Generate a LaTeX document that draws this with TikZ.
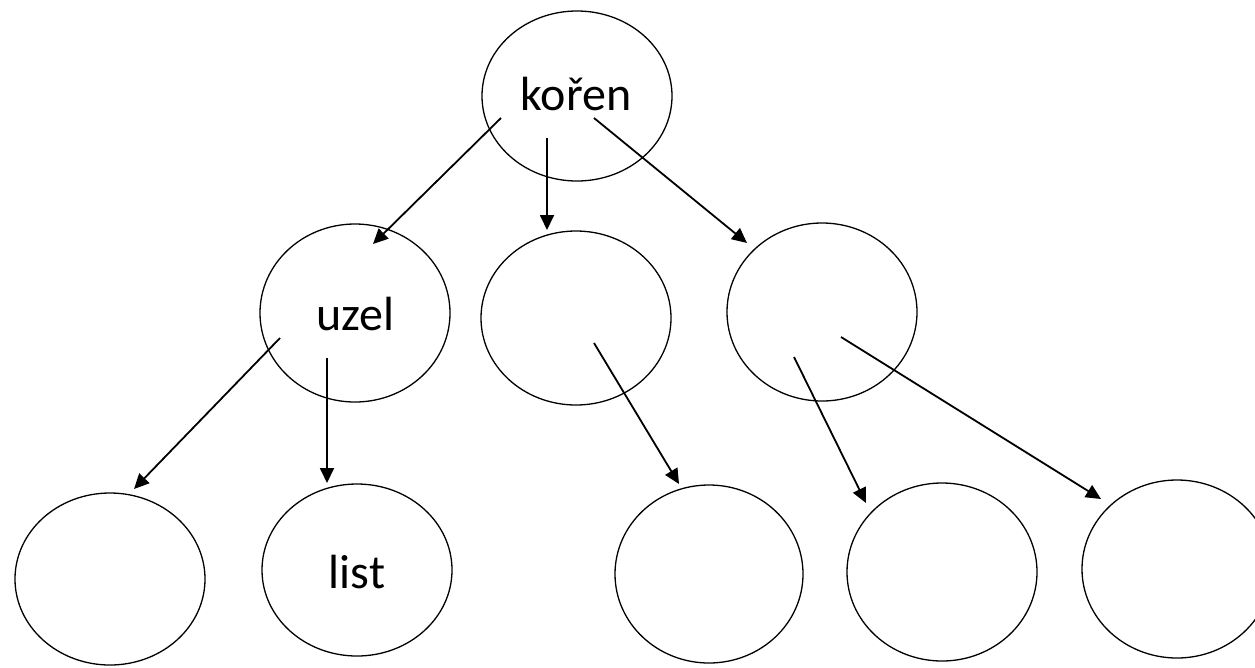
\documentclass[tikz,border=0pt]{standalone}
\usepackage{fontspec}
\setmainfont{Carlito}
\usetikzlibrary{arrows.meta,shapes.geometric}
\tikzset{
  treenode/.style={draw=black, line width=1.3pt, ellipse, inner sep=0pt, minimum width=190pt},
  nodetext/.style={anchor=base, inner sep=0pt, font=\fontsize{48pt}{56pt}\selectfont},
  edge/.style={line width=1.8pt, -{Triangle[length=15pt,width=14pt]}}
}
\begin{document}
\begin{tikzpicture}[x=1pt, y=-1pt]
\useasboundingbox (0,0) rectangle (1255,667);
% top level
\node[treenode, minimum height=170pt] (root) at (577,96) {};
% second level
\node[treenode, minimum height=178pt] (uzel) at (355,313) {};
\node[treenode, minimum height=174pt] (mid)  at (576,318) {};
\node[treenode, minimum height=178pt] (right) at (822,312) {};
% leaves
\node[treenode, minimum height=172pt] (l1) at (110,579) {};
\node[treenode, minimum height=172pt] (l2) at (357,570) {};
\node[treenode, minimum height=178pt, minimum width=188pt] (l3) at (709,574) {};
\node[treenode, minimum height=178pt] (l4) at (942,572) {};
\node[treenode, minimum height=178pt] (l5) at (1177,569) {};
% labels
\node[nodetext] (troot) at (576,110) {kořen};
\node[nodetext] (tuzel) at (355,330) {uzel};
\node[nodetext] (tlist) at (357,588) {list};
% arrow end points
\coordinate (s1) at (501,118); \coordinate (e1) at (373,244);
\coordinate (s2) at (547,138); \coordinate (e2) at (547,230);
\coordinate (s3) at (594,118); \coordinate (e3) at (747,243);
\coordinate (s4) at (280,338); \coordinate (e4) at (134,489);
\coordinate (s5) at (327,358); \coordinate (e5) at (327,483);
\coordinate (s6) at (594,343); \coordinate (e6) at (679,484);
\coordinate (s7) at (794,357); \coordinate (e7) at (866,503);
\coordinate (s8) at (841,337); \coordinate (e8) at (1101,499);
% edges
\draw[edge] (s1) -- (e1);
\draw[edge] (s2) -- (e2);
\draw[edge] (s3) -- (e3);
\draw[edge] (s4) -- (e4);
\draw[edge] (s5) -- (e5);
\draw[edge] (s6) -- (e6);
\draw[edge] (s7) -- (e7);
\draw[edge] (s8) -- (e8);
\end{tikzpicture}
\end{document}
